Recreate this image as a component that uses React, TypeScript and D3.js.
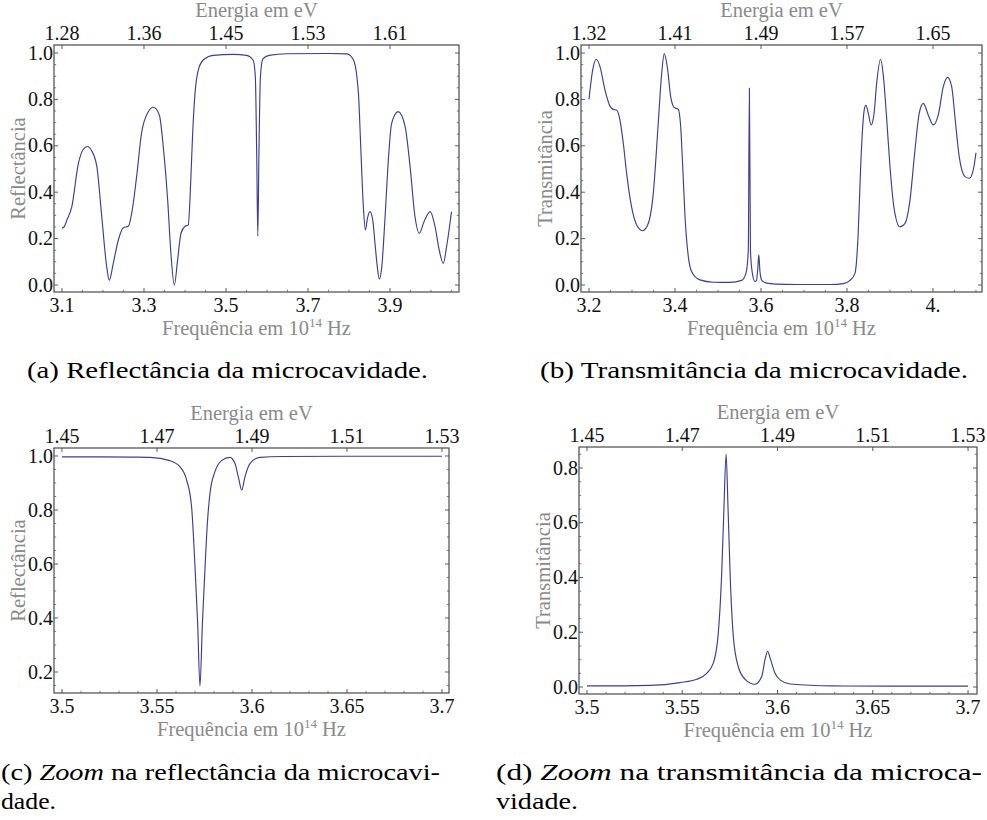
import React from "react";
import * as d3 from "d3";

// ---------- DATA ----------
// (a) Reflectância — frequência (10^14 Hz)
const reflFreq = [
  3.1, 3.105, 3.112, 3.124, 3.14, 3.152, 3.162, 3.172, 3.185, 3.197, 3.209, 3.2154, 3.225, 3.2374, 3.2496, 3.2618,
  3.27, 3.282, 3.294, 3.3106, 3.3227, 3.3374, 3.347, 3.3577, 3.3656, 3.374, 3.382, 3.3902, 3.4, 3.408, 3.4138,
  3.4187, 3.4244, 3.4325, 3.4446, 3.4691, 3.518, 3.55, 3.566, 3.5715, 3.575, 3.5776, 3.5802, 3.584, 3.59,
  3.605, 3.65, 3.75, 3.795, 3.811, 3.823, 3.829, 3.835, 3.84, 3.845, 3.851, 3.858, 3.8634, 3.869, 3.874, 3.88,
  3.888, 3.896, 3.904, 3.92, 3.937, 3.949, 3.961, 3.9715, 3.983, 3.998, 4.01, 4.02, 4.03, 4.038, 4.05,
];
const reflVals = [
  0.246, 0.25, 0.28, 0.338, 0.524, 0.585, 0.597, 0.58, 0.51, 0.294, 0.079, 0.02, 0.093, 0.194, 0.247, 0.253,
  0.309, 0.467, 0.654, 0.747, 0.766, 0.733, 0.596, 0.366, 0.137, 0.0, 0.108, 0.223, 0.253, 0.259, 0.438,
  0.654, 0.826, 0.927, 0.97, 0.99, 0.994, 0.99, 0.97, 0.9, 0.55, 0.21, 0.55, 0.9, 0.975,
  0.99, 0.997, 0.998, 0.996, 0.97, 0.826, 0.58, 0.338, 0.237, 0.287, 0.316, 0.28, 0.18, 0.079, 0.025, 0.079,
  0.294, 0.539, 0.697, 0.747, 0.682, 0.51, 0.294, 0.223, 0.273, 0.316, 0.251, 0.151, 0.093, 0.165, 0.316,
];

// (b) Transmitância
const transFreq = [
  3.2, 3.2086, 3.217, 3.2256, 3.2372, 3.2488, 3.2566, 3.2643, 3.272, 3.2798, 3.2876, 3.299, 3.311, 3.325, 3.338,
  3.3495, 3.361, 3.369, 3.375, 3.382, 3.39, 3.3977, 3.4077, 3.4132, 3.418, 3.4233, 3.431, 3.4388, 3.458, 3.489,
  3.528, 3.555, 3.565, 3.5705, 3.573, 3.5755, 3.58, 3.586, 3.5895, 3.5925, 3.595, 3.5975, 3.602, 3.613, 3.634,
  3.6837, 3.7612, 3.7914, 3.807, 3.8186, 3.826, 3.8318, 3.8365, 3.84, 3.844, 3.8496, 3.856, 3.863, 3.869, 3.878,
  3.884, 3.892, 3.9, 3.909, 3.923, 3.935, 3.9465, 3.958, 3.968, 3.9775, 3.989, 4.0007, 4.0123, 4.024, 4.034,
  4.0435, 4.051, 4.061, 4.0744, 4.0845, 4.0937, 4.1,
];
const transVals = [
  0.8, 0.927, 0.973, 0.941, 0.84, 0.771, 0.757, 0.754, 0.711, 0.611, 0.48, 0.337, 0.259, 0.234, 0.266,
  0.395, 0.697, 0.912, 0.996, 0.941, 0.812, 0.766, 0.757, 0.683, 0.51, 0.295, 0.122, 0.057, 0.022, 0.012,
  0.011, 0.02, 0.05, 0.15, 0.848, 0.15, 0.05, 0.015, 0.02, 0.07, 0.13, 0.06, 0.02, 0.008, 0.004,
  0.002, 0.002, 0.006, 0.02, 0.05, 0.22, 0.51, 0.68, 0.754, 0.774, 0.74, 0.69, 0.74, 0.869, 0.973,
  0.912, 0.725, 0.51, 0.337, 0.251, 0.266, 0.366, 0.58, 0.74, 0.783, 0.733, 0.69, 0.733, 0.855, 0.895,
  0.855, 0.725, 0.553, 0.467, 0.46, 0.496, 0.57,
];

// (c) Zoom na reflectância
const zoomReflFreq = [
  3.5, 3.52, 3.537, 3.5463, 3.5568, 3.5621, 3.5656, 3.5682, 3.57, 3.5714, 3.5726, 3.5739, 3.5753, 3.5765, 3.5779,
  3.5805, 3.584, 3.5884, 3.591, 3.5928, 3.5946, 3.5963, 3.599, 3.6042, 3.616, 3.65, 3.7,
];
const zoomReflVals = [
  0.997, 0.997, 0.996, 0.995, 0.983, 0.96, 0.911, 0.812, 0.59, 0.38, 0.148, 0.38, 0.59, 0.75, 0.863,
  0.942, 0.983, 0.995, 0.973, 0.923, 0.874, 0.923, 0.973, 0.995, 0.998, 0.999, 0.999,
];

// (d) Zoom na transmitância
const zoomTransFreq = [
  3.5, 3.5068, 3.533, 3.5488, 3.5576, 3.5628, 3.5663, 3.5689, 3.5707, 3.5719, 3.573, 3.574, 3.5751, 3.5768,
  3.5794, 3.583, 3.5882, 3.5917, 3.5934, 3.5948, 3.5964, 3.5987, 3.6015, 3.6066, 3.629, 3.66, 3.7,
];
const zoomTransVals = [
  0.004, 0.004, 0.006, 0.016, 0.028, 0.05, 0.087, 0.196, 0.415, 0.659, 0.851, 0.659, 0.415, 0.184,
  0.074, 0.028, 0.01, 0.038, 0.099, 0.13, 0.099, 0.05, 0.025, 0.011, 0.004, 0.003, 0.003,
];

// ticks
const freqTicks_a = [3.1, 3.3, 3.5, 3.7, 3.9];
const freqLabels_a = ["3.1", "3.3", "3.5", "3.7", "3.9"];
const energyLabels_a = ["1.28", "1.36", "1.45", "1.53", "1.61"];
const freqTicks_b = [3.2, 3.4, 3.6, 3.8, 4.0];
const freqLabels_b = ["3.2", "3.4", "3.6", "3.8", "4."];
const energyLabels_b = ["1.32", "1.41", "1.49", "1.57", "1.65"];
const freqTicks_zoom = [3.5, 3.55, 3.6, 3.65, 3.7];
const freqLabels_zoom = ["3.5", "3.55", "3.6", "3.65", "3.7"];
const energyLabels_zoom = ["1.45", "1.47", "1.49", "1.51", "1.53"];
const yTicksFull = [0, 0.2, 0.4, 0.6, 0.8, 1.0];
const yLabelsFull = ["0.0", "0.2", "0.4", "0.6", "0.8", "1.0"];
const yTicksZoomR = [0.2, 0.4, 0.6, 0.8, 1.0];
const yLabelsZoomR = ["0.2", "0.4", "0.6", "0.8", "1.0"];
const yTicksZoomT = [0, 0.2, 0.4, 0.6, 0.8];
const yLabelsZoomT = ["0.0", "0.2", "0.4", "0.6", "0.8"];

// ---------- STYLE ----------
const LINE = "#3d3d99";
const FRAME = "#4a4a4a";
const GRAY = "#8a8a8a";
const TICKFONT = "Liberation Serif, Times New Roman, serif";
const CAPFONT = "Liberation Serif, Times New Roman, serif";

type PanelProps = {
  frame: { l: number; r: number; t: number; b: number };
  xDomain: [number, number];
  yDomain: [number, number];
  xs: number[];
  ys: number[];
  xTicks: number[];
  xLabels: string[];
  eLabels: string[];
  xMinorStep: number;
  yTicks: number[];
  yLabels: string[];
  yLabel: string;
};

function range(a: number, b: number, step: number) {
  const out: number[] = [];
  const n = Math.round((b - a) / step);
  for (let i = 0; i <= n; i++) out.push(+(a + i * step).toFixed(6));
  return out;
}

function Panel(p: PanelProps) {
  const { frame } = p;
  const x = d3.scaleLinear().domain(p.xDomain).range([frame.l, frame.r]);
  const y = d3.scaleLinear().domain(p.yDomain).range([frame.b, frame.t]);
  const pts = p.xs.map((v, i) => [v, p.ys[i]] as [number, number]);
  const line = d3
    .line<[number, number]>()
    .x((d) => x(d[0]))
    .y((d) => y(d[1]))
    .curve(d3.curveMonotoneX);

  const xMinor = range(
    Math.ceil(p.xDomain[0] / p.xMinorStep) * p.xMinorStep,
    Math.floor(p.xDomain[1] / p.xMinorStep) * p.xMinorStep,
    p.xMinorStep
  ).filter((v) => !p.xTicks.some((t) => Math.abs(t - v) < 1e-6));
  const yMinor = range(
    Math.ceil(p.yDomain[0] / 0.05) * 0.05,
    Math.floor(p.yDomain[1] / 0.05) * 0.05,
    0.05
  ).filter((v) => !p.yTicks.some((t) => Math.abs(t - v) < 1e-6));

  const MAJ = 4;
  const MIN = 2.2;
  const cx = (frame.l + frame.r) / 2;
  const cy = (frame.t + frame.b) / 2;
  const clipId = `clip-${frame.l}-${frame.t}`;

  return (
    <g>
      <defs>
        <clipPath id={clipId}>
          <rect x={frame.l} y={frame.t} width={frame.r - frame.l} height={frame.b - frame.t} />
        </clipPath>
      </defs>
      <path d={line(pts) || ""} fill="none" stroke={LINE} strokeWidth={1.15} clipPath={`url(#${clipId})`} />
      <rect
        x={frame.l}
        y={frame.t}
        width={frame.r - frame.l}
        height={frame.b - frame.t}
        fill="none"
        stroke={FRAME}
        strokeWidth={1.2}
      />
      {p.xTicks.map((t, i) => (
        <g key={"bx" + i}>
          <line x1={x(t)} x2={x(t)} y1={frame.b} y2={frame.b - MAJ} stroke={FRAME} strokeWidth={0.9} />
          <line x1={x(t)} x2={x(t)} y1={frame.t} y2={frame.t + MAJ} stroke={FRAME} strokeWidth={0.9} />
          <text x={x(t)} y={frame.b + 20} textAnchor="middle" fontFamily={TICKFONT} fontSize={20} fill="#111">
            {p.xLabels[i]}
          </text>
          <text x={x(t)} y={frame.t - 5} textAnchor="middle" fontFamily={TICKFONT} fontSize={20} fill="#111">
            {p.eLabels[i]}
          </text>
        </g>
      ))}
      {xMinor.map((t, i) => (
        <line key={"mx" + i} x1={x(t)} x2={x(t)} y1={frame.b} y2={frame.b - MIN} stroke={FRAME} strokeWidth={0.7} />
      ))}
      {p.yTicks.map((t, i) => (
        <g key={"y" + i}>
          <line x1={frame.l} x2={frame.l + MAJ} y1={y(t)} y2={y(t)} stroke={FRAME} strokeWidth={0.9} />
          <line x1={frame.r} x2={frame.r - MAJ} y1={y(t)} y2={y(t)} stroke={FRAME} strokeWidth={0.9} />
          <text x={frame.l - 1} y={y(t) + 6.6} textAnchor="end" fontFamily={TICKFONT} fontSize={20} fill="#111">
            {p.yLabels[i]}
          </text>
        </g>
      ))}
      {yMinor.map((t, i) => (
        <g key={"my" + i}>
          <line x1={frame.l} x2={frame.l + MIN} y1={y(t)} y2={y(t)} stroke={FRAME} strokeWidth={0.7} />
          <line x1={frame.r} x2={frame.r - MIN} y1={y(t)} y2={y(t)} stroke={FRAME} strokeWidth={0.7} />
        </g>
      ))}
      <text x={cx} y={frame.t - 28} textAnchor="middle" fontFamily={TICKFONT} fontSize={20.5} fill={GRAY}>
        Energia em eV
      </text>
      <text x={cx} y={frame.b + 43} textAnchor="middle" fontFamily={TICKFONT} fontSize={20.5} fill={GRAY}>
        Frequência em 10
        <tspan fontSize={13} dy={-8}>
          14
        </tspan>
        <tspan dy={8}> Hz</tspan>
      </text>
      <text
        transform={`translate(${frame.l - 36},${cy}) rotate(-90)`}
        x={0}
        y={7}
        textAnchor="middle"
        fontFamily={TICKFONT}
        fontSize={20.5}
        fill={GRAY}
      >
        {p.yLabel}
      </text>
    </g>
  );
}

export default function App() {
  return (
    <svg
      width={987}
      height={820}
      viewBox="0 0 987 820"
      style={{ position: "absolute", left: 0, top: 0, background: "#fff" }}
    >
      <rect x={0} y={0} width={987} height={820} fill="#fff" />
      <Panel
        frame={{ l: 54, r: 459, t: 45, b: 292 }}
        xDomain={[3.0805, 4.0683]}
        yDomain={[-0.0302, 1.0345]}
        xs={reflFreq}
        ys={reflVals}
        xTicks={freqTicks_a}
        xLabels={freqLabels_a}
        eLabels={energyLabels_a}
        xMinorStep={0.05}
        yTicks={yTicksFull}
        yLabels={yLabelsFull}
        yLabel="Reflectância"
      />
      <Panel
        frame={{ l: 581, r: 982, t: 45, b: 292 }}
        xDomain={[3.1814, 4.114]}
        yDomain={[-0.0302, 1.0345]}
        xs={transFreq}
        ys={transVals}
        xTicks={freqTicks_b}
        xLabels={freqLabels_b}
        eLabels={energyLabels_b}
        xMinorStep={0.05}
        yTicks={yTicksFull}
        yLabels={yLabelsFull}
        yLabel="Transmitância"
      />
      <Panel
        frame={{ l: 54, r: 449, t: 448, b: 693 }}
        xDomain={[3.49579, 3.70368]}
        yDomain={[0.1222, 1.0296]}
        xs={zoomReflFreq}
        ys={zoomReflVals}
        xTicks={freqTicks_zoom}
        xLabels={freqLabels_zoom}
        eLabels={energyLabels_zoom}
        xMinorStep={0.01}
        yTicks={yTicksZoomR}
        yLabels={yLabelsZoomR}
        yLabel="Reflectância"
      />
      <Panel
        frame={{ l: 579, r: 977, t: 447, b: 694 }}
        xDomain={[3.4958, 3.7047]}
        yDomain={[-0.0256, 0.8767]}
        xs={zoomTransFreq}
        ys={zoomTransVals}
        xTicks={freqTicks_zoom}
        xLabels={freqLabels_zoom}
        eLabels={energyLabels_zoom}
        xMinorStep={0.01}
        yTicks={yTicksZoomT}
        yLabels={yLabelsZoomT}
        yLabel="Transmitância"
      />
      <text x={27} y={378} fontFamily={CAPFONT} fontSize={23} fill="#000" textLength={401} lengthAdjust="spacingAndGlyphs">
        (a) Reflectância da microcavidade.
      </text>
      <text x={540} y={378} fontFamily={CAPFONT} fontSize={23} fill="#000" textLength={428} lengthAdjust="spacingAndGlyphs">
        (b) Transmitância da microcavidade.
      </text>
      <text x={1} y={780} fontFamily={CAPFONT} fontSize={23} fill="#000" textLength={439} lengthAdjust="spacingAndGlyphs">
        (c) <tspan fontStyle="italic">Zoom</tspan> na reflectância da microcavi-
      </text>
      <text x={1} y={809} fontFamily={CAPFONT} fontSize={23} fill="#000" textLength={55} lengthAdjust="spacingAndGlyphs">
        dade.
      </text>
      <text x={496} y={780} fontFamily={CAPFONT} fontSize={23} fill="#000" textLength={486} lengthAdjust="spacingAndGlyphs">
        (d) <tspan fontStyle="italic">Zoom</tspan> na transmitância da microca-
      </text>
      <text x={496} y={809} fontFamily={CAPFONT} fontSize={23} fill="#000" textLength={82} lengthAdjust="spacingAndGlyphs">
        vidade.
      </text>
    </svg>
  );
}
